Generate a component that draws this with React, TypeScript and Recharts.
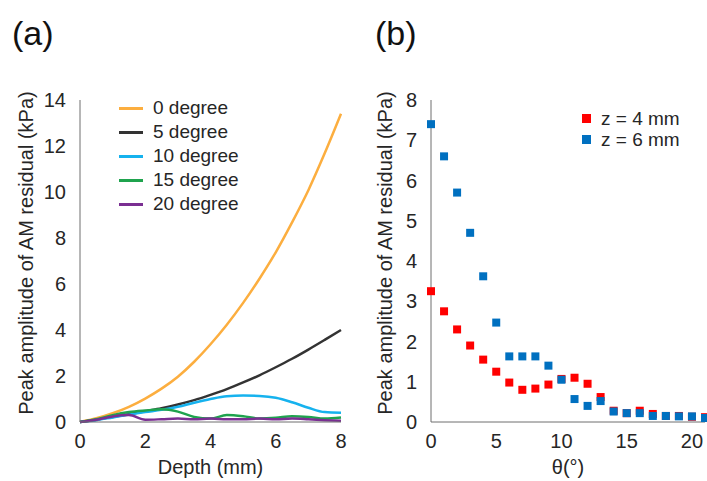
import React from 'react';
import {
  LineChart, Line, ScatterChart, Scatter, XAxis, YAxis, ZAxis, Legend,
} from 'recharts';

document.body.style.margin = '0';

const depth = [0, 0.5, 1, 1.5, 2, 2.5, 3, 3.5, 4, 4.5, 5, 5.5, 6, 6.5, 7, 7.5, 8];
const deg0 = [0, 0.16, 0.38, 0.66, 1.02, 1.45, 1.97, 2.62, 3.38, 4.23, 5.18, 6.23, 7.38, 8.68, 10.08, 11.68, 13.4];
const deg5 = [0, 0.1, 0.22, 0.34, 0.47, 0.6, 0.76, 0.95, 1.18, 1.43, 1.72, 2.03, 2.38, 2.75, 3.15, 3.57, 4.0];
const deg10 = [0, 0.08, 0.2, 0.32, 0.43, 0.53, 0.66, 0.84, 1.0, 1.12, 1.15, 1.13, 1.05, 0.86, 0.62, 0.43, 0.4];
const deg15 = [0, 0.12, 0.3, 0.43, 0.5, 0.55, 0.45, 0.22, 0.15, 0.3, 0.25, 0.15, 0.18, 0.25, 0.22, 0.15, 0.2];
const deg20 = [0, 0.1, 0.24, 0.3, 0.1, 0.12, 0.15, 0.12, 0.15, 0.12, 0.12, 0.15, 0.12, 0.15, 0.12, 0.08, 0.05];

const theta = [0, 1, 2, 3, 4, 5, 6, 7, 8, 9, 10, 11, 12, 13, 14, 15, 16, 17, 18, 19, 20, 21];
const z4 = [3.25, 2.75, 2.3, 1.9, 1.55, 1.25, 0.98, 0.8, 0.83, 0.93, 1.07, 1.1, 0.95, 0.62, 0.28, 0.22, 0.28, 0.2, 0.15, 0.15, 0.13, 0.12];
const z6 = [7.4, 6.6, 5.7, 4.7, 3.62, 2.47, 1.63, 1.63, 1.63, 1.4, 1.05, 0.57, 0.4, 0.52, 0.26, 0.22, 0.22, 0.15, 0.15, 0.14, 0.14, 0.1];

const lineSeries = [
  { key: 'd0', name: '0 degree', values: deg0, color: '#fcae3f' },
  { key: 'd5', name: '5 degree', values: deg5, color: '#333333' },
  { key: 'd10', name: '10 degree', values: deg10, color: '#16b2ee' },
  { key: 'd15', name: '15 degree', values: deg15, color: '#1fa34e' },
  { key: 'd20', name: '20 degree', values: deg20, color: '#7a2f92' },
];

const depthData = depth.map((d, i) => {
  const row: Record<string, number> = { depth: d };
  lineSeries.forEach((s) => { row[s.key] = s.values[i]; });
  return row;
});
const z4Data = theta.map((t, i) => ({ theta: t, v: z4[i] }));
const z6Data = theta.map((t, i) => ({ theta: t, v: z6[i] }));

const font = '"Liberation Sans", Arial, sans-serif';
const tickStyle = { fill: '#262626', fontSize: 20, fontFamily: font };
const axisColor = '#6e6e6e';
const yLabel = 'Peak amplitude of AM residual (kPa)';

const LeftLegend = () => (
  <div style={{ fontFamily: font, fontSize: 19, color: '#262626' }}>
    {lineSeries.map((s) => (
      <div key={s.key} style={{ display: 'flex', alignItems: 'center', height: 24 }}>
        <div style={{ width: 24, height: 3, background: s.color, marginRight: 10 }} />
        <span>{s.name}</span>
      </div>
    ))}
  </div>
);

const scatterSeries = [
  { name: 'z = 4 mm', color: '#ff0000' },
  { name: 'z = 6 mm', color: '#0070c0' },
];

const RightLegend = () => (
  <div style={{ fontFamily: font, fontSize: 19, color: '#262626' }}>
    {scatterSeries.map((s) => (
      <div key={s.name} style={{ display: 'flex', alignItems: 'center', height: 21 }}>
        <div style={{ width: 9, height: 9, background: s.color, marginRight: 10 }} />
        <span>{s.name}</span>
      </div>
    ))}
  </div>
);

const panelTitle: React.CSSProperties = {
  position: 'absolute', top: 14, fontFamily: font, fontSize: 34, color: '#111',
};

export default function App() {
  return (
    <div style={{ position: 'relative', width: 707, height: 481, background: '#fff', overflow: 'hidden' }}>
      <div style={{ ...panelTitle, left: 12 }}>(a)</div>
      <div style={{ ...panelTitle, left: 375 }}>(b)</div>

      <div style={{ position: 'absolute', left: 0, top: 0 }}>
        <LineChart width={360} height={481} data={depthData}
          margin={{ top: 100, right: 19, bottom: 1, left: 0 }}>
          <XAxis dataKey="depth" type="number" domain={[0, 8]} ticks={[0, 2, 4, 6, 8]}
            tick={tickStyle} tickLine={false} stroke={axisColor} height={58} tickMargin={6}
            label={{ value: 'Depth (mm)', position: 'insideBottom', offset: 6, fill: '#262626', fontSize: 20, fontFamily: font }} />
          <YAxis type="number" domain={[0, 14]} ticks={[0, 2, 4, 6, 8, 10, 12, 14]}
            tick={tickStyle} tickLine={false} stroke={axisColor} width={80} tickMargin={8}
            label={{ value: yLabel, angle: -90, position: 'insideLeft', offset: 26, dy: -8, style: { textAnchor: 'middle' }, fill: '#262626', fontSize: 20, fontFamily: font }} />
          <Legend content={<LeftLegend />} layout="vertical" align="center" verticalAlign="middle"
            wrapperStyle={{ left: 119, top: 96, width: 'auto' }} />
          {lineSeries.map((s) => (
            <Line key={s.key} dataKey={s.key} name={s.name} type="monotone" stroke={s.color}
              strokeWidth={2.5} dot={false} isAnimationActive={false} />
          ))}
        </LineChart>
      </div>

      <div style={{ position: 'absolute', left: 360, top: 0 }}>
        <ScatterChart width={347} height={481} margin={{ top: 100, right: 2, bottom: 1, left: 0 }}>
          <XAxis dataKey="theta" type="number" domain={[0, 21]} ticks={[0, 5, 10, 15, 20]}
            tick={tickStyle} tickLine={false} stroke={axisColor} height={58} tickMargin={6}
            label={{ value: 'θ(°)', position: 'insideBottom', offset: 6, fill: '#262626', fontSize: 20, fontFamily: font }} />
          <YAxis dataKey="v" type="number" domain={[0, 8]} ticks={[0, 1, 2, 3, 4, 5, 6, 7, 8]}
            tick={tickStyle} tickLine={false} stroke={axisColor} width={71} tickMargin={8}
            label={{ value: yLabel, angle: -90, position: 'insideLeft', offset: 25, dy: -8, style: { textAnchor: 'middle' }, fill: '#262626', fontSize: 20, fontFamily: font }} />
          <ZAxis range={[81, 81]} />
          <Legend content={<RightLegend />} layout="vertical" align="center" verticalAlign="middle"
            wrapperStyle={{ left: 222, top: 108, width: 'auto' }} />
          <Scatter name="z = 4 mm" data={z4Data} fill="#ff0000" shape="square" isAnimationActive={false} />
          <Scatter name="z = 6 mm" data={z6Data} fill="#0070c0" shape="square" isAnimationActive={false} />
        </ScatterChart>
      </div>
    </div>
  );
}
